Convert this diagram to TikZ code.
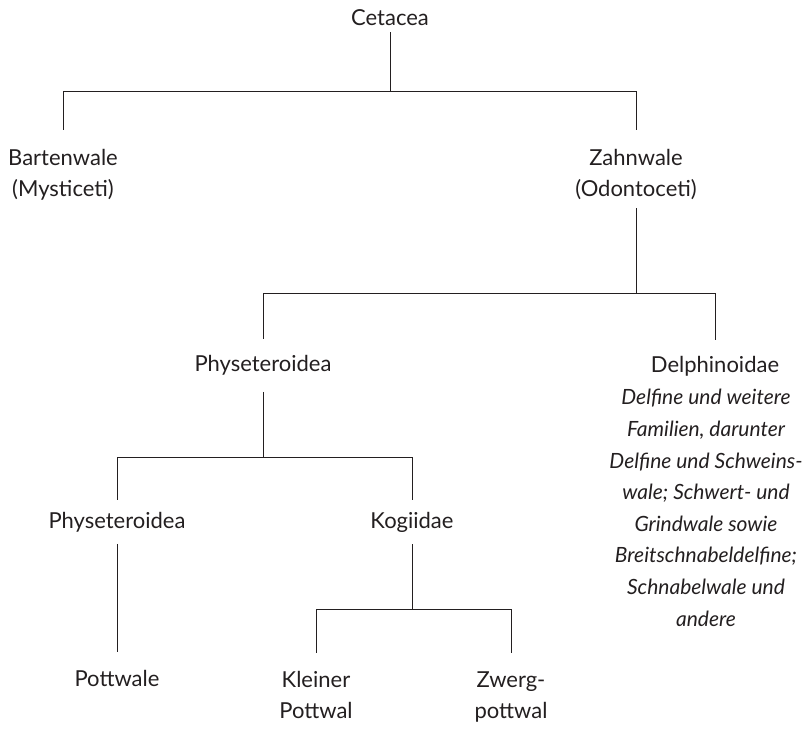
\documentclass[tikz,border=0pt]{standalone}
\usepackage{fontspec}
\setmainfont{Lato}
\definecolor{txt}{HTML}{231F20}
\begin{document}
\begin{tikzpicture}[x=1pt,y=-1pt,
  lbl/.style={anchor=base, inner sep=0pt, align=center, text=txt,
              font=\fontsize{22}{31}\selectfont},
  note/.style={lbl, font=\fontsize{21}{31.6}\selectfont\itshape},
  link/.style={draw=txt, line width=1pt}]
\useasboundingbox (0,0) rectangle (809,729);
% levels of the horizontal bars
\coordinate (b1) at (0,91);
\coordinate (b2) at (0,293);
\coordinate (b3) at (0,457);
\coordinate (b4) at (0,609);
% nodes (base = baseline of the last line)
\node[lbl] (cet)   at (390,25)  {Cetacea};
\node[lbl] (bart)  at (63,196)  {Bartenwale\\(Mysticeti)};
\node[lbl] (zahn)  at (636,196) {Zahnwale\\(Odontoceti)};
\node[lbl] (phyA)  at (263,371) {Physeteroidea};
\node[lbl] (delph) at (715,372) {Delphinoidae};
\node[note] (desc) at (706,626) {Delfine und weitere\\Familien, darunter\\Delfine und Schweins-\\wale; Schwert- und\\Grindwale sowie\\Breitschnabeldelfine;\\Schnabelwale und\\andere};
\node[lbl] (phyB)  at (117,528) {Physeteroidea};
\node[lbl] (kog)   at (412,528) {Kogiidae};
\node[lbl] (pott)  at (117,686) {Pottwale};
\node[lbl] (klein) at (316,718) {Kleiner\\Pottwal};
\node[lbl] (zwerg) at (511,718) {Zwerg-\\pottwal};
% connectors
\draw[link] ([yshift=-7pt]cet.south) -- (cet |- b1);
\draw[link] ([yshift=19pt]bart.north) |- (zahn |- b1) -- ([yshift=19pt]zahn.north);
\draw[link] ([yshift=-9pt]zahn.south) -- (zahn |- b2);
\draw[link] ([yshift=16pt]phyA.north) |- (delph |- b2) -- ([yshift=16pt]delph.north);
\draw[link] ([yshift=-17pt]phyA.south) -- (phyA |- b3);
\draw[link] ([yshift=12pt]phyB.north) |- (kog |- b3) -- ([yshift=12pt]kog.north);
\draw[link] ([yshift=-12pt]phyB.south) -- ([yshift=18pt]pott.north);
\draw[link] ([yshift=-12pt]kog.south) -- (kog |- b4);
\draw[link] ([yshift=18pt]klein.north) |- (zwerg |- b4) -- ([yshift=18pt]zwerg.north);
\end{tikzpicture}
\end{document}
